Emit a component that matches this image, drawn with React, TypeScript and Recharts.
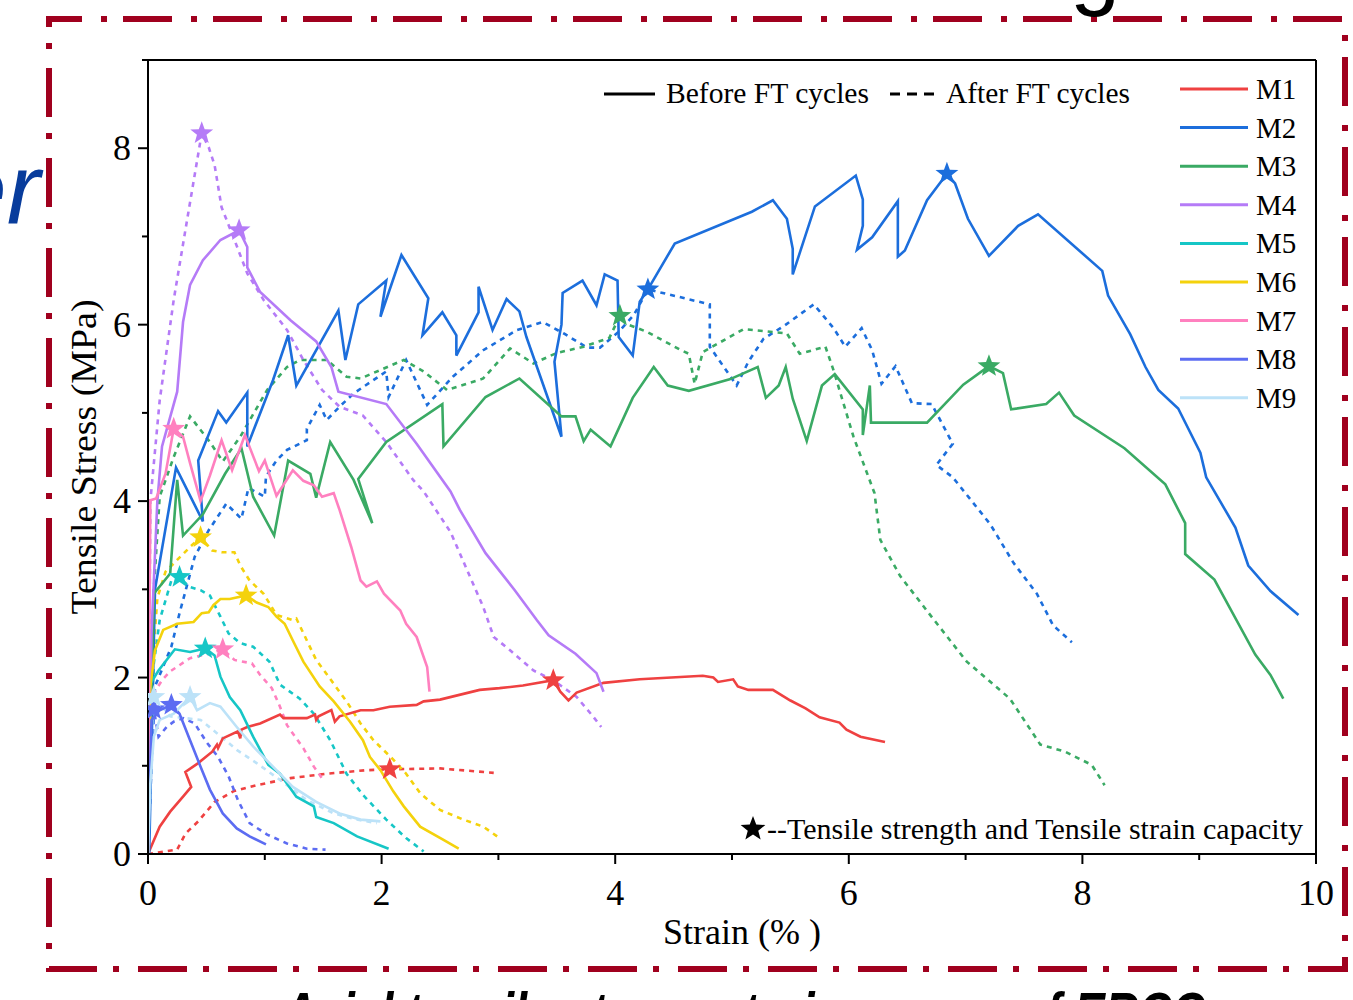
import React from "react";
import { ComposedChart, Line, Scatter, XAxis, YAxis, ReferenceLine } from "recharts";

type Pt = [number, number];

// strain (%) , tensile stress (MPa)
const seriesNames = ["M1", "M2", "M3", "M4", "M5", "M6", "M7", "M8", "M9"];
const seriesColors = ["#EF4141", "#1C6EDC", "#3AAA64", "#B57BF7", "#16C6C6", "#F4D20C", "#FF80BF", "#5C6CF2", "#BCE2F8"];

const m1Before: Pt[] = [[0,0],[0.10,0.31],[0.19,0.48],[0.30,0.65],[0.37,0.76],[0.32,0.93],[0.43,1.03],[0.55,1.16],[0.59,1.24],[0.60,1.20],[0.64,1.31],[0.77,1.39],[0.79,1.31],[0.80,1.41],[0.85,1.44],[0.96,1.48],[1.13,1.58],[1.16,1.54],[1.36,1.54],[1.43,1.58],[1.44,1.52],[1.46,1.56],[1.57,1.63],[1.60,1.50],[1.64,1.56],[1.82,1.63],[1.93,1.63],[2.07,1.67],[2.30,1.69],[2.36,1.73],[2.50,1.75],[2.84,1.86],[3.01,1.88],[3.21,1.91],[3.47,1.97],[3.53,1.84],[3.60,1.74],[3.67,1.83],[3.90,1.94],[4.21,1.98],[4.75,2.02],[4.84,2.00],[4.88,1.95],[5.01,1.98],[5.05,1.90],[5.14,1.86],[5.35,1.86],[5.50,1.74],[5.63,1.65],[5.75,1.55],[5.92,1.49],[5.98,1.41],[6.10,1.33],[6.31,1.27]];
const m1After: Pt[] = [[0,0],[0.10,0.02],[0.25,0.05],[0.32,0.23],[0.43,0.37],[0.57,0.59],[0.73,0.71],[0.93,0.78],[1.22,0.86],[1.53,0.91],[1.87,0.95],[2.07,0.96],[2.50,0.97],[2.96,0.92]];

const m2Before: Pt[] = [[0.01,0],[0.06,3.0],[0.24,4.38],[0.47,3.77],[0.43,4.46],[0.60,5.02],[0.67,4.89],[0.85,5.23],[0.85,4.62],[1.07,5.37],[1.20,5.88],[1.27,5.31],[1.63,6.16],[1.69,5.60],[1.80,6.23],[2.04,6.50],[1.99,6.09],[2.17,6.79],[2.40,6.30],[2.35,5.88],[2.52,6.14],[2.64,5.88],[2.64,5.65],[2.83,6.14],[2.83,6.43],[2.95,5.94],[3.07,6.29],[3.18,6.15],[3.24,5.86],[3.54,4.73],[3.48,5.58],[3.54,6.00],[3.55,6.36],[3.72,6.50],[3.84,6.22],[3.91,6.57],[4.02,6.50],[4.03,5.86],[4.15,5.65],[4.21,6.26],[4.28,6.40],[4.51,6.92],[5.17,7.28],[5.35,7.41],[5.47,7.20],[5.52,6.86],[5.52,6.57],[5.71,7.34],[6.06,7.69],[6.12,7.42],[6.12,7.12],[6.07,6.85],[6.20,6.99],[6.42,7.40],[6.42,6.77],[6.48,6.84],[6.67,7.41],[6.84,7.71],[6.91,7.60],[7.02,7.20],[7.20,6.78],[7.45,7.12],[7.62,7.25],[8.17,6.61],[8.22,6.33],[8.41,5.89],[8.54,5.52],[8.65,5.26],[8.82,5.05],[9.01,4.55],[9.06,4.27],[9.31,3.70],[9.42,3.27],[9.61,2.98],[9.85,2.71]];
const m2After: Pt[] = [[0,0],[0.03,1.0],[0.06,1.9],[0.20,2.35],[0.27,2.73],[0.40,3.37],[0.52,3.67],[0.67,3.97],[0.80,3.80],[0.86,4.15],[1.00,4.05],[1.01,4.28],[1.10,4.46],[1.19,4.58],[1.36,4.69],[1.36,4.82],[1.47,5.09],[1.53,4.92],[1.64,5.07],[1.76,5.22],[2.04,5.47],[2.06,5.18],[2.21,5.60],[2.39,5.09],[2.61,5.41],[2.87,5.71],[3.16,5.94],[3.38,6.03],[3.56,5.90],[3.76,5.74],[3.87,5.74],[4.03,5.92],[4.16,6.11],[4.28,6.40],[4.81,6.23],[4.81,5.75],[5.04,5.31],[5.14,5.58],[5.27,5.84],[5.45,5.99],[5.70,6.23],[5.87,5.96],[5.97,5.75],[6.11,5.96],[6.20,5.71],[6.28,5.33],[6.40,5.53],[6.54,5.11],[6.71,5.10],[6.89,4.65],[6.75,4.41],[6.89,4.27],[7.21,3.74],[7.41,3.30],[7.61,2.95],[7.75,2.59],[7.91,2.40]];

const m3Before: Pt[] = [[0,0],[0.05,2.95],[0.19,3.18],[0.25,4.24],[0.30,3.61],[0.47,3.85],[0.66,4.31],[0.80,4.60],[0.90,4.05],[1.08,3.61],[1.20,4.46],[1.39,4.31],[1.44,4.04],[1.56,4.67],[1.76,4.24],[1.92,3.75],[1.80,4.25],[2.04,4.67],[2.52,5.10],[2.53,4.62],[2.89,5.18],[3.18,5.39],[3.54,4.96],[3.66,4.96],[3.73,4.68],[3.79,4.81],[3.96,4.62],[4.15,5.17],[4.33,5.52],[4.45,5.31],[4.63,5.25],[4.98,5.38],[5.22,5.52],[5.29,5.17],[5.40,5.31],[5.46,5.52],[5.52,5.16],[5.64,4.68],[5.77,5.31],[5.88,5.44],[6.12,5.04],[6.12,4.75],[6.18,5.31],[6.19,4.89],[6.67,4.89],[6.98,5.32],[7.20,5.53],[7.32,5.45],[7.39,5.04],[7.69,5.10],[7.80,5.23],[7.93,4.97],[8.36,4.60],[8.71,4.19],[8.88,3.75],[8.88,3.40],[9.13,3.11],[9.48,2.26],[9.61,2.03],[9.72,1.76]];
const m3After: Pt[] = [[0,0],[0.02,1.5],[0.05,3.0],[0.10,4.05],[0.22,4.50],[0.36,4.96],[0.53,4.67],[0.64,4.45],[0.79,4.73],[1.02,5.26],[1.19,5.52],[1.30,5.60],[1.53,5.60],[1.70,5.41],[1.82,5.39],[2.19,5.60],[2.36,5.47],[2.56,5.26],[2.87,5.39],[3.10,5.73],[3.30,5.56],[3.50,5.68],[3.73,5.75],[3.95,5.85],[4.04,6.10],[4.09,6.01],[4.27,5.92],[4.55,5.72],[4.63,5.67],[4.68,5.33],[4.75,5.69],[5.10,5.95],[5.47,5.90],[5.58,5.67],[5.80,5.75],[5.87,5.48],[6.04,4.73],[6.22,4.09],[6.27,3.56],[6.44,3.15],[6.72,2.67],[7.01,2.18],[7.38,1.76],[7.64,1.24],[7.85,1.16],[8.08,1.01],[8.19,0.78]];

const m4Before: Pt[] = [[0,0],[0.03,2.5],[0.08,4.0],[0.12,4.62],[0.25,5.24],[0.30,6.03],[0.36,6.45],[0.47,6.73],[0.62,6.96],[0.78,7.07],[0.85,6.88],[0.85,6.65],[0.96,6.37],[1.22,6.05],[1.44,5.81],[1.57,5.52],[1.63,5.24],[2.04,5.10],[2.30,4.65],[2.59,4.11],[2.67,3.90],[2.89,3.41],[3.14,2.99],[3.33,2.65],[3.43,2.48],[3.66,2.27],[3.84,2.05],[3.90,1.84]];
const m4After: Pt[] = [[0,0],[0.01,2.0],[0.02,4.0],[0.10,5.14],[0.22,6.28],[0.33,7.15],[0.46,8.17],[0.52,8.01],[0.57,7.81],[0.63,7.33],[0.72,7.03],[0.85,6.58],[0.99,6.28],[1.19,5.94],[1.33,5.60],[1.49,5.26],[1.64,5.07],[1.84,4.97],[2.04,4.67],[2.27,4.24],[2.36,4.11],[2.59,3.65],[2.87,2.80],[2.96,2.46],[3.10,2.31],[3.30,2.08],[3.47,1.97],[3.67,1.78],[3.81,1.56],[3.88,1.44]];

const m5Before: Pt[] = [[0,0],[0.01,1.2],[0.02,1.93],[0.09,2.08],[0.23,2.32],[0.36,2.29],[0.49,2.33],[0.57,2.25],[0.62,2.01],[0.70,1.78],[0.79,1.63],[0.90,1.33],[1.03,1.01],[1.13,0.91],[1.27,0.65],[1.42,0.54],[1.44,0.42],[1.59,0.35],[1.79,0.20],[2.06,0.06]];
const m5After: Pt[] = [[0,0],[0.03,1.59],[0.05,2.16],[0.10,2.65],[0.20,3.10],[0.27,3.14],[0.35,3.03],[0.45,2.99],[0.53,2.93],[0.62,2.69],[0.69,2.50],[0.79,2.39],[0.90,2.35],[1.04,2.18],[1.13,1.92],[1.30,1.76],[1.42,1.59],[1.56,1.29],[1.70,0.91],[1.84,0.67],[2.04,0.39],[2.21,0.18],[2.36,0.03]];

const m6Before: Pt[] = [[0,0],[0.01,1.0],[0.02,1.90],[0.06,2.31],[0.13,2.54],[0.25,2.61],[0.39,2.63],[0.46,2.73],[0.52,2.74],[0.56,2.82],[0.62,2.89],[0.70,2.89],[0.84,2.93],[0.93,2.85],[1.03,2.80],[1.10,2.69],[1.17,2.61],[1.24,2.42],[1.33,2.18],[1.47,1.90],[1.59,1.73],[1.73,1.50],[1.84,1.29],[1.90,1.10],[1.99,0.95],[2.10,0.71],[2.19,0.54],[2.33,0.31],[2.53,0.16],[2.66,0.06]];
const m6After: Pt[] = [[0,0],[0.02,1.8],[0.08,2.9],[0.15,3.20],[0.36,3.48],[0.45,3.59],[0.55,3.44],[0.63,3.42],[0.74,3.42],[0.79,3.27],[0.87,3.10],[0.99,2.95],[1.10,2.71],[1.24,2.65],[1.27,2.67],[1.36,2.42],[1.44,2.20],[1.59,1.93],[1.71,1.71],[1.82,1.48],[1.93,1.29],[2.10,1.07],[2.21,0.91],[2.33,0.69],[2.50,0.50],[2.70,0.39],[2.87,0.31],[3.01,0.18]];

const m7Before: Pt[] = [[0,0],[0.01,2.0],[0.02,4.01],[0.07,4.03],[0.15,4.31],[0.22,4.82],[0.30,4.73],[0.36,4.43],[0.45,4.00],[0.53,4.29],[0.63,4.69],[0.72,4.35],[0.83,4.75],[0.95,4.34],[1.00,4.46],[1.10,4.06],[1.24,4.35],[1.33,4.23],[1.42,4.18],[1.49,4.05],[1.59,4.09],[1.64,3.90],[1.74,3.48],[1.82,3.10],[1.87,3.03],[1.96,3.09],[2.02,2.95],[2.16,2.76],[2.21,2.61],[2.30,2.46],[2.39,2.12],[2.41,1.84]];
const m7After: Pt[] = [[0,0],[0.02,1.2],[0.03,1.78],[0.12,1.97],[0.19,2.07],[0.36,2.22],[0.52,2.27],[0.64,2.32],[0.74,2.20],[0.89,2.16],[0.96,2.03],[1.06,1.88],[1.13,1.67],[1.19,1.46],[1.27,1.31],[1.33,1.20],[1.42,0.99],[1.50,0.84]];

const m8Before: Pt[] = [[0,0],[0.02,1.0],[0.03,1.52],[0.10,1.63],[0.20,1.69],[0.27,1.59],[0.36,1.29],[0.45,0.99],[0.53,0.73],[0.64,0.46],[0.76,0.29],[0.87,0.20],[1.01,0.11]];
const m8After: Pt[] = [[0,0],[0.02,1.0],[0.05,1.64],[0.09,1.33],[0.16,1.44],[0.22,1.50],[0.30,1.54],[0.40,1.48],[0.50,1.27],[0.60,1.10],[0.69,0.88],[0.77,0.61],[0.87,0.35],[1.02,0.22],[1.19,0.12],[1.36,0.06],[1.52,0.05]];

const m9Before: Pt[] = [[0,0],[0.02,0.8],[0.05,1.33],[0.10,1.52],[0.22,1.59],[0.36,1.78],[0.42,1.63],[0.53,1.71],[0.62,1.67],[0.76,1.44],[0.90,1.22],[1.07,0.99],[1.24,0.76],[1.44,0.59],[1.64,0.46],[1.82,0.39],[1.99,0.37]];
const m9After: Pt[] = [[0,0],[0.02,1.0],[0.05,1.78],[0.19,1.56],[0.45,1.52],[0.59,1.37],[0.76,1.18],[0.93,1.03],[1.13,0.84],[1.36,0.61],[1.59,0.46],[1.79,0.39],[1.96,0.35]];

// tensile strength / strain capacity points (stars)
const starsBefore: Pt[] = [[3.47,1.97],[6.84,7.71],[7.20,5.53],[0.78,7.07],[0.49,2.33],[0.84,2.93],[0.22,4.82],[0.20,1.69],[0.36,1.78]];
const starsAfter: Pt[] = [[2.07,0.96],[4.28,6.40],[4.04,6.10],[0.46,8.17],[0.27,3.14],[0.45,3.59],[0.64,2.32],[0.05,1.64],[0.05,1.78]];

const xTicks = [0, 1, 2, 3, 4, 5, 6, 7, 8, 9, 10];
const yTicks = [0, 1, 2, 3, 4, 5, 6, 7, 8, 9];

const beforeList = [m1Before, m2Before, m3Before, m4Before, m5Before, m6Before, m7Before, m8Before, m9Before];
const afterList = [m1After, m2After, m3After, m4After, m5After, m6After, m7After, m8After, m9After];

const toXY = (pts: Pt[]) => pts.map(([x, y]) => ({ x, y }));

const series = seriesNames.map((name, i) => ({
  name,
  color: seriesColors[i],
  before: toXY(beforeList[i]),
  after: toXY(afterList[i]),
  stars: toXY([starsBefore[i], starsAfter[i]]),
}));

const SERIF = "'Liberation Serif', 'Times New Roman', serif";
const SANS = "'Liberation Sans', Arial, sans-serif";

const starPath = (cx: number, cy: number, ro: number, ri: number) => {
  let d = "";
  for (let k = 0; k < 10; k++) {
    const r = k % 2 === 0 ? ro : ri;
    const a = -Math.PI / 2 + (k * Math.PI) / 5;
    d += (k === 0 ? "M" : "L") + (cx + r * Math.cos(a)).toFixed(2) + "," + (cy + r * Math.sin(a)).toFixed(2);
  }
  return d + "Z";
};

const XTick = (props: any) => {
  const { x, y, payload } = props;
  const major = payload.value % 2 === 0;
  return (
    <g>
      <line x1={x} x2={x} y1={y} y2={y + (major ? 10 : 6)} stroke="#000" strokeWidth={2} />
      {major && (
        <text x={x} y={y + 51} textAnchor="middle" fontSize={36} fontFamily={SERIF} fill="#000">
          {payload.value}
        </text>
      )}
    </g>
  );
};

const YTick = (props: any) => {
  const { x, y, payload } = props;
  const major = payload.value % 2 === 0 && payload.value < 9;
  return (
    <g>
      <line x1={x - (major ? 10 : 6)} x2={x} y1={y} y2={y} stroke="#000" strokeWidth={2} />
      {major && (
        <text x={x - 17} y={y + 12} textAnchor="end" fontSize={36} fontFamily={SERIF} fill="#000">
          {payload.value}
        </text>
      )}
    </g>
  );
};

export default function App() {
  const legendY = (i: number) => 89 + i * 38.6;
  return (
    <div style={{ position: "absolute", left: 0, top: 0, width: 1353, height: 1000, background: "#fff", overflow: "hidden" }}>
      <ComposedChart width={1353} height={1000} margin={{ top: 60, right: 37, bottom: 86, left: 88 }}>
        <XAxis
          type="number"
          dataKey="x"
          domain={[0, 10]}
          ticks={xTicks}
          interval={0}
          allowDataOverflow
          height={60}
          tickSize={0}
          tickMargin={0}
          tickLine={false}
          axisLine={{ stroke: "#000", strokeWidth: 2 }}
          tick={<XTick />}
        />
        <YAxis
          type="number"
          domain={[0, 9]}
          ticks={yTicks}
          interval={0}
          allowDataOverflow
          width={60}
          tickSize={0}
          tickMargin={0}
          tickLine={false}
          axisLine={{ stroke: "#000", strokeWidth: 2 }}
          tick={<YTick />}
        />
        <ReferenceLine y={9} stroke="#000" strokeWidth={2} />
        <ReferenceLine x={10} stroke="#000" strokeWidth={2} />
        {series.map((s) => (
          <Line
            key={s.name + "a"}
            data={s.after}
            dataKey="y"
            type="linear"
            stroke={s.color}
            strokeWidth={2.6}
            strokeDasharray="5 5"
            dot={false}
            activeDot={false}
            isAnimationActive={false}
          />
        ))}
        {series.map((s) => (
          <Line
            key={s.name + "b"}
            data={s.before}
            dataKey="y"
            type="linear"
            stroke={s.color}
            strokeWidth={2.6}
            dot={false}
            activeDot={false}
            isAnimationActive={false}
          />
        ))}
        {series.map((s) => (
          <Scatter
            key={s.name + "s"}
            data={s.stars}
            dataKey="y"
            fill={s.color}
            isAnimationActive={false}
            shape={(p: any) => <path d={starPath(p.cx, p.cy, 12, 5)} fill={s.color} />}
          />
        ))}
      </ComposedChart>

      <svg width={1353} height={1000} style={{ position: "absolute", left: 0, top: 0, pointerEvents: "none" }}>
        <rect x={49} y={19} width={1296} height={950} fill="none" stroke="#A0001E" strokeWidth={6} strokeDasharray="49 19 6 16" strokeDashoffset={16} />
        {/* fragments of the surrounding page, cut by the crop as in the source */}
        <text x={40} y={224} textAnchor="end" fontSize={100} fontStyle="italic" fontFamily={SANS} fill="#083C9C">er</text>
        <text x={1095} y={-2} textAnchor="middle" fontSize={90} fontFamily={SANS} fill="#000">g</text>
        <text x={283} y={1034} fontSize={60} fontWeight="bold" fontStyle="italic" fontFamily={SANS} fill="#000" textLength={922} lengthAdjust="spacingAndGlyphs">Axial tensile stress-strain curves of ERCC</text>

        <text transform="translate(96,457) rotate(-90)" textAnchor="middle" fontSize={36} fontFamily={SERIF} fill="#000" textLength={315} lengthAdjust="spacingAndGlyphs">Tensile Stress (MPa)</text>
        <text x={742} y={944} textAnchor="middle" fontSize={36} fontFamily={SERIF} fill="#000">Strain (% )</text>

        <line x1={604} x2={655} y1={94} y2={94} stroke="#000" strokeWidth={3} />
        <text x={666} y={103} fontSize={29} fontFamily={SERIF} fill="#000" textLength={203} lengthAdjust="spacingAndGlyphs">Before FT cycles</text>
        <line x1={890} x2={935} y1={94} y2={94} stroke="#000" strokeWidth={3} strokeDasharray="10 7" />
        <text x={946} y={103} fontSize={29} fontFamily={SERIF} fill="#000" textLength={184} lengthAdjust="spacingAndGlyphs">After FT cycles</text>

        {series.map((s, i) => (
          <g key={s.name}>
            <line x1={1180} x2={1248} y1={legendY(i)} y2={legendY(i)} stroke={s.color} strokeWidth={3} />
            <text x={1256} y={legendY(i) + 10} fontSize={29} fontFamily={SERIF} fill="#000">{s.name}</text>
          </g>
        ))}

        <path d={starPath(753, 829, 13, 5.5)} fill="#000" />
        <text x={767} y={839} fontSize={29} fontFamily={SERIF} fill="#000" textLength={536} lengthAdjust="spacingAndGlyphs">--Tensile strength and Tensile strain capacity</text>
      </svg>
    </div>
  );
}
